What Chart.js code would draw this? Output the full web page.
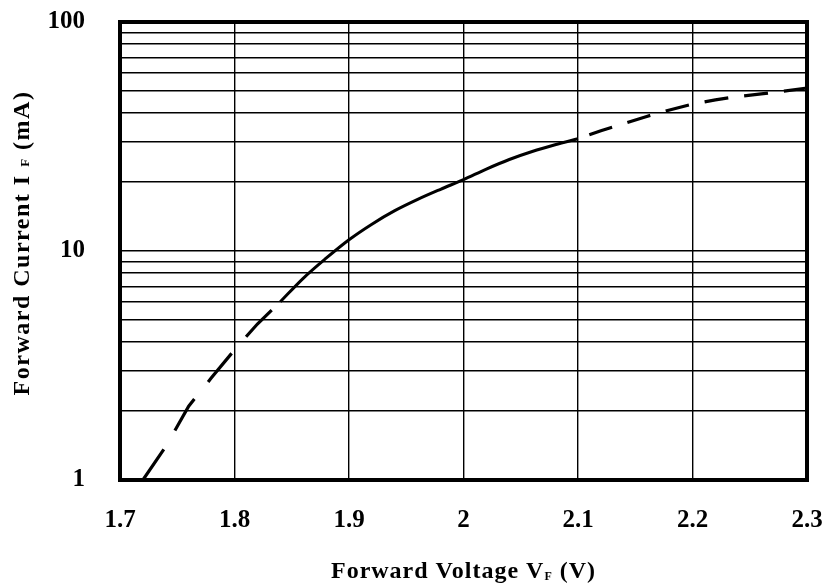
<!DOCTYPE html>
<html>
<head>
<meta charset="utf-8">
<script src="https://cdn.jsdelivr.net/npm/chart.js@4/dist/chart.umd.min.js"></script>
<style>
  html, body { margin: 0; padding: 0; background: #fff; }
  #wrap { width: 827px; height: 585px; }
</style>
</head>
<body>
<div id="wrap"><canvas id="c" width="827" height="585"></canvas></div>
<script>
// ---- data ----
const dashLowV  = [1.72, 1.74, 1.76, 1.78, 1.80, 1.82, 1.84];
const dashLowI  = [1.00, 1.40, 2.10, 2.80, 3.70, 4.80, 6.00];
const solidV    = [1.84, 1.86, 1.88, 1.90, 1.92, 1.94, 1.96, 1.98, 2.00, 2.02, 2.04, 2.06, 2.08, 2.10];
const solidI    = [6.00, 7.60, 9.30, 11.2, 13.1, 15.0, 16.8, 18.6, 20.5, 22.8, 25.1, 27.2, 29.1, 30.9];
const dashHighV = [2.10, 2.12, 2.14, 2.16, 2.18, 2.20, 2.22, 2.24, 2.26, 2.28, 2.30];
const dashHighI = [30.9, 33.5, 36.0, 38.7, 41.3, 43.8, 45.7, 47.3, 48.5, 49.9, 51.5];

const xTickValues = [1.7, 1.8, 1.9, 2.0, 2.1, 2.2, 2.3];
const xTickLabels = ['1.7', '1.8', '1.9', '2', '2.1', '2.2', '2.3'];
const yGridValues = [1, 2, 3, 4, 5, 6, 7, 8, 9, 10, 20, 30, 40, 50, 60, 70, 80, 90, 100];
const yLabelValues = [1, 10, 100];
const yTickLabels  = ['1', '10', '100'];

const xTitleMain = 'Forward Voltage V';
const xTitleSub  = 'F';
const xTitleEnd  = ' (V)';
const yTitleMain = 'Forward Current I ';
const yTitleSub  = 'F';
const yTitleEnd  = ' (mA)';

const SERIF = '"Liberation Serif", "Times New Roman", Times, serif';

function pts(xs, ys) { return xs.map((x, i) => ({ x: x, y: ys[i] })); }

const framePlugin = {
  id: 'frame',
  afterDatasetsDraw(chart) {
    const a = chart.chartArea, ctx = chart.ctx;
    ctx.save();
    ctx.strokeStyle = '#000';
    ctx.lineWidth = 4;
    ctx.strokeRect(a.left, a.top, a.right - a.left, a.bottom - a.top);
    ctx.restore();
  }
};

function drawSegs(ctx, segs, spacing) {
  let total = 0;
  const widths = segs.map(s => { ctx.font = s[1]; ctx.letterSpacing = spacing; const w = ctx.measureText(s[0]).width; total += w; return w; });
  let x = -total / 2;
  segs.forEach((s, i) => {
    ctx.font = s[1];
    ctx.letterSpacing = spacing;
    ctx.fillText(s[0], x, s[2]);
    x += widths[i];
  });
}

const titlePlugin = {
  id: 'titles',
  afterDraw(chart) {
    const a = chart.chartArea, ctx = chart.ctx;
    ctx.save();
    ctx.fillStyle = '#000';
    ctx.textBaseline = 'alphabetic';
    ctx.textAlign = 'left';
    ctx.save();
    ctx.translate((a.left + a.right) / 2, 578);
    drawSegs(ctx, [
      [xTitleMain, 'bold 24px ' + SERIF, 0],
      [xTitleSub,  'bold 12px ' + SERIF, 2],
      [xTitleEnd,  'bold 24px ' + SERIF, 0]
    ], '1px');
    ctx.restore();
    ctx.save();
    ctx.translate(29, 243);
    ctx.rotate(-Math.PI / 2);
    drawSegs(ctx, [
      [yTitleMain, 'bold 24px ' + SERIF, 0],
      [yTitleSub,  'bold 13px ' + SERIF, 0],
      [yTitleEnd,  'bold 24px ' + SERIF, 0]
    ], '1.5px');
    ctx.restore();
    ctx.restore();
  }
};

function zeroPad(s) { s.paddingTop = 0; s.paddingBottom = 0; s.paddingLeft = 0; s.paddingRight = 0; }

new Chart(document.getElementById('c'), {
  type: 'scatter',
  data: {
    datasets: [
      { data: pts(dashLowV, dashLowI), showLine: true, borderColor: '#000', borderWidth: 3.2,
        borderDash: [37, 22], pointRadius: 0, borderCapStyle: 'butt' },
      { data: pts(solidV, solidI), showLine: true, borderColor: '#000', borderWidth: 3,
        pointRadius: 0, cubicInterpolationMode: 'monotone' },
      { data: pts(dashHighV, dashHighI), showLine: true, borderColor: '#000', borderWidth: 3.2,
        borderDash: [24, 16], borderDashOffset: -12, pointRadius: 0, borderCapStyle: 'butt' }
    ]
  },
  options: {
    responsive: false,
    animation: false,
    events: [],
    layout: { padding: { top: 22, right: 20, left: 0, bottom: 0 } },
    plugins: { legend: { display: false }, tooltip: { enabled: false } },
    scales: {
      x: {
        type: 'linear',
        min: 1.7, max: 2.3,
        afterFit(s) { s.height = 105; zeroPad(s); },
        afterBuildTicks(s) { s.ticks = xTickValues.map(v => ({ value: v })); },
        ticks: {
          autoSkip: false, maxRotation: 0, padding: 26, color: '#000',
          font: { family: SERIF, size: 25, weight: 'bold' },
          callback(v) {
            const i = xTickValues.findIndex(t => Math.abs(t - v) < 1e-6);
            return i >= 0 ? xTickLabels[i] : '';
          }
        },
        grid: { color: '#000', lineWidth: 1.4, drawTicks: false },
        border: { display: false }
      },
      y: {
        type: 'logarithmic',
        min: 1, max: 100,
        afterFit(s) { s.width = 120; zeroPad(s); },
        afterBuildTicks(s) { s.ticks = yGridValues.map(v => ({ value: v })); },
        ticks: {
          autoSkip: false, padding: 35, color: '#000',
          font: { family: SERIF, size: 25, weight: 'bold' },
          callback(v) {
            const i = yLabelValues.findIndex(t => Math.abs(t - v) < 1e-6);
            return i >= 0 ? yTickLabels[i] : '';
          }
        },
        grid: { color: '#000', lineWidth: 1.4, drawTicks: false },
        border: { display: false }
      }
    }
  },
  plugins: [framePlugin, titlePlugin]
});
</script>
</body>
</html>
